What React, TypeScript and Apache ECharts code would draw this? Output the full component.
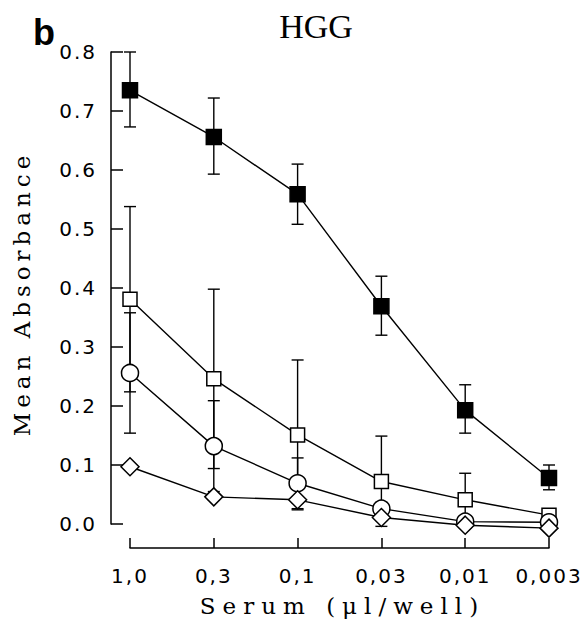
import React, { useEffect, useRef } from 'react';
import * as echarts from 'echarts';

const categories = ['1,0', '0,3', '0,1', '0,03', '0,01', '0,003'];
const yTicks = [0, 0.1, 0.2, 0.3, 0.4, 0.5, 0.6, 0.7, 0.8];

const filledSq = [0.735, 0.656, 0.559, 0.369, 0.193, 0.078];
const filledSqLow = [0.673, 0.593, 0.508, 0.32, 0.154, 0.058];
const filledSqHigh = [0.8, 0.722, 0.61, 0.42, 0.236, 0.1];

const openSq = [0.381, 0.246, 0.151, 0.072, 0.041, 0.015];
const openSqLow = [0.224, 0.094, 0.024, -0.004, -0.004, 0.01];
const openSqHigh = [0.538, 0.398, 0.278, 0.149, 0.086, 0.02];

const circle = [0.256, 0.132, 0.069, 0.026, 0.004, 0.003];
const circleLow = [0.154, 0.055, 0.026, 0.015, 0.0, 0.0];
const circleHigh = [0.358, 0.209, 0.112, 0.037, 0.008, 0.006];

const diamond = [0.097, 0.046, 0.041, 0.011, -0.002, -0.007];
const diamondLow = [0.092, 0.041, 0.036, 0.006, -0.006, -0.011];
const diamondHigh = [0.102, 0.051, 0.046, 0.016, 0.002, -0.003];

const SERIF_Y = 'DejaVu Serif, FallbackY, serif';
const SERIF_X = 'DejaVu Serif, FallbackX, serif';

export default function App() {
  const ref = useRef<HTMLDivElement>(null);
  useEffect(() => {
    const chart = echarts.init(ref.current!, null, { renderer: 'svg' });
    const errSeries = (name: string, low: number[], high: number[]) => ({
      type: 'custom',
      name: name + ' error',
      z: 1,
      silent: true,
      clip: false,
      data: categories.map((_c, i) => [i, low[i], high[i]]),
      encode: { x: 0, y: [1, 2] },
      renderItem: (_params: any, api: any) => {
        const i = api.value(0);
        const lo = api.coord([i, api.value(1)]);
        const hi = api.coord([i, api.value(2)]);
        const w = 6;
        const st = { stroke: '#000', lineWidth: 1.4 };
        return {
          type: 'group',
          children: [
            { type: 'line', shape: { x1: lo[0], y1: lo[1], x2: hi[0], y2: hi[1] }, style: st },
            { type: 'line', shape: { x1: hi[0] - w, y1: hi[1], x2: hi[0] + w, y2: hi[1] }, style: st },
            { type: 'line', shape: { x1: lo[0] - w, y1: lo[1], x2: lo[0] + w, y2: lo[1] }, style: st },
          ],
        };
      },
    });
    const lineSeries = (name: string, data: number[], symbol: string, size: number, fill: string) => ({
      type: 'line',
      name,
      data,
      z: 3,
      clip: false,
      symbol,
      symbolSize: size,
      showAllSymbol: true,
      lineStyle: { color: '#000', width: 1.4 },
      itemStyle: { color: fill, borderColor: '#000', borderWidth: 1.5 },
      emphasis: { disabled: true },
    });
    chart.setOption({
      animation: false,
      backgroundColor: '#fff',
      grid: { left: 130, right: 34, top: 52, bottom: 98, containLabel: false },
      graphic: [
        {
          type: 'text',
          x: 33,
          y: 32,
          style: {
            text: 'b',
            font: 'bold 36px "Liberation Sans"',
            fill: '#000',
            textAlign: 'left',
            textVerticalAlign: 'middle',
          },
        },
        {
          type: 'text',
          x: 316,
          y: 26,
          style: {
            text: 'HGG',
            font: '34px "Liberation Serif"',
            fill: '#000',
            textAlign: 'center',
            textVerticalAlign: 'middle',
          },
        },
      ],
      xAxis: {
        type: 'category',
        data: categories,
        boundaryGap: false,
        offset: 24,
        name: 'Serum (\u03bcl/well)',
        nameLocation: 'middle',
        nameGap: 46,
        nameTextStyle: { fontFamily: SERIF_X, fontSize: 23, color: '#000', padding: [0, 0, 0, 6] },
        axisLine: { onZero: false, lineStyle: { color: '#000', width: 1.5 } },
        axisTick: { inside: true, length: 10, alignWithLabel: true, lineStyle: { color: '#000', width: 1.5 } },
        axisLabel: { fontFamily: 'DejaVu Sans', fontSize: 20, color: '#000', margin: 18 },
        splitLine: { show: false },
      },
      yAxis: {
        type: 'value',
        min: 0,
        max: 0.8,
        interval: 0.1,
        offset: 19,
        name: 'Mean Absorbance',
        nameLocation: 'middle',
        nameGap: 78,
        nameRotate: 90,
        nameTextStyle: { fontFamily: SERIF_Y, fontSize: 23, color: '#000', padding: [0, 11, 0, 0] },
        axisLine: { show: true, onZero: false, lineStyle: { color: '#000', width: 1.5 } },
        axisTick: { show: true, inside: true, length: 12, lineStyle: { color: '#000', width: 1.5 } },
        axisLabel: {
          fontFamily: 'DejaVu Sans',
          fontSize: 20,
          color: '#000',
          margin: 14,
          formatter: (v: number) => (yTicks.some((t) => Math.abs(t - v) < 1e-9) ? v.toFixed(1) : ''),
        },
        splitLine: { show: false },
      },
      series: [
        errSeries('filled', filledSqLow, filledSqHigh),
        errSeries('open', openSqLow, openSqHigh),
        errSeries('circle', circleLow, circleHigh),
        errSeries('diamond', diamondLow, diamondHigh),
        lineSeries('Filled square', filledSq, 'rect', 15, '#000'),
        lineSeries('Open square', openSq, 'rect', 14, '#fff'),
        lineSeries('Circle', circle, 'circle', 17, '#fff'),
        lineSeries('Diamond', diamond, 'diamond', 18, '#fff'),
      ],
    });
    return () => chart.dispose();
  }, []);
  return (
    <>
      <style>{`
        #chart text[style*="DejaVu Sans"] { letter-spacing: 2px; }
        #chart text[style*="FallbackY"] { letter-spacing: 5px; }
        #chart text[style*="FallbackX"] { letter-spacing: 7px; }
      `}</style>
      <div
        id="chart"
        ref={ref}
        style={{ position: 'fixed', left: 0, top: 0, width: 583, height: 622, background: '#fff' }}
      />
    </>
  );
}
